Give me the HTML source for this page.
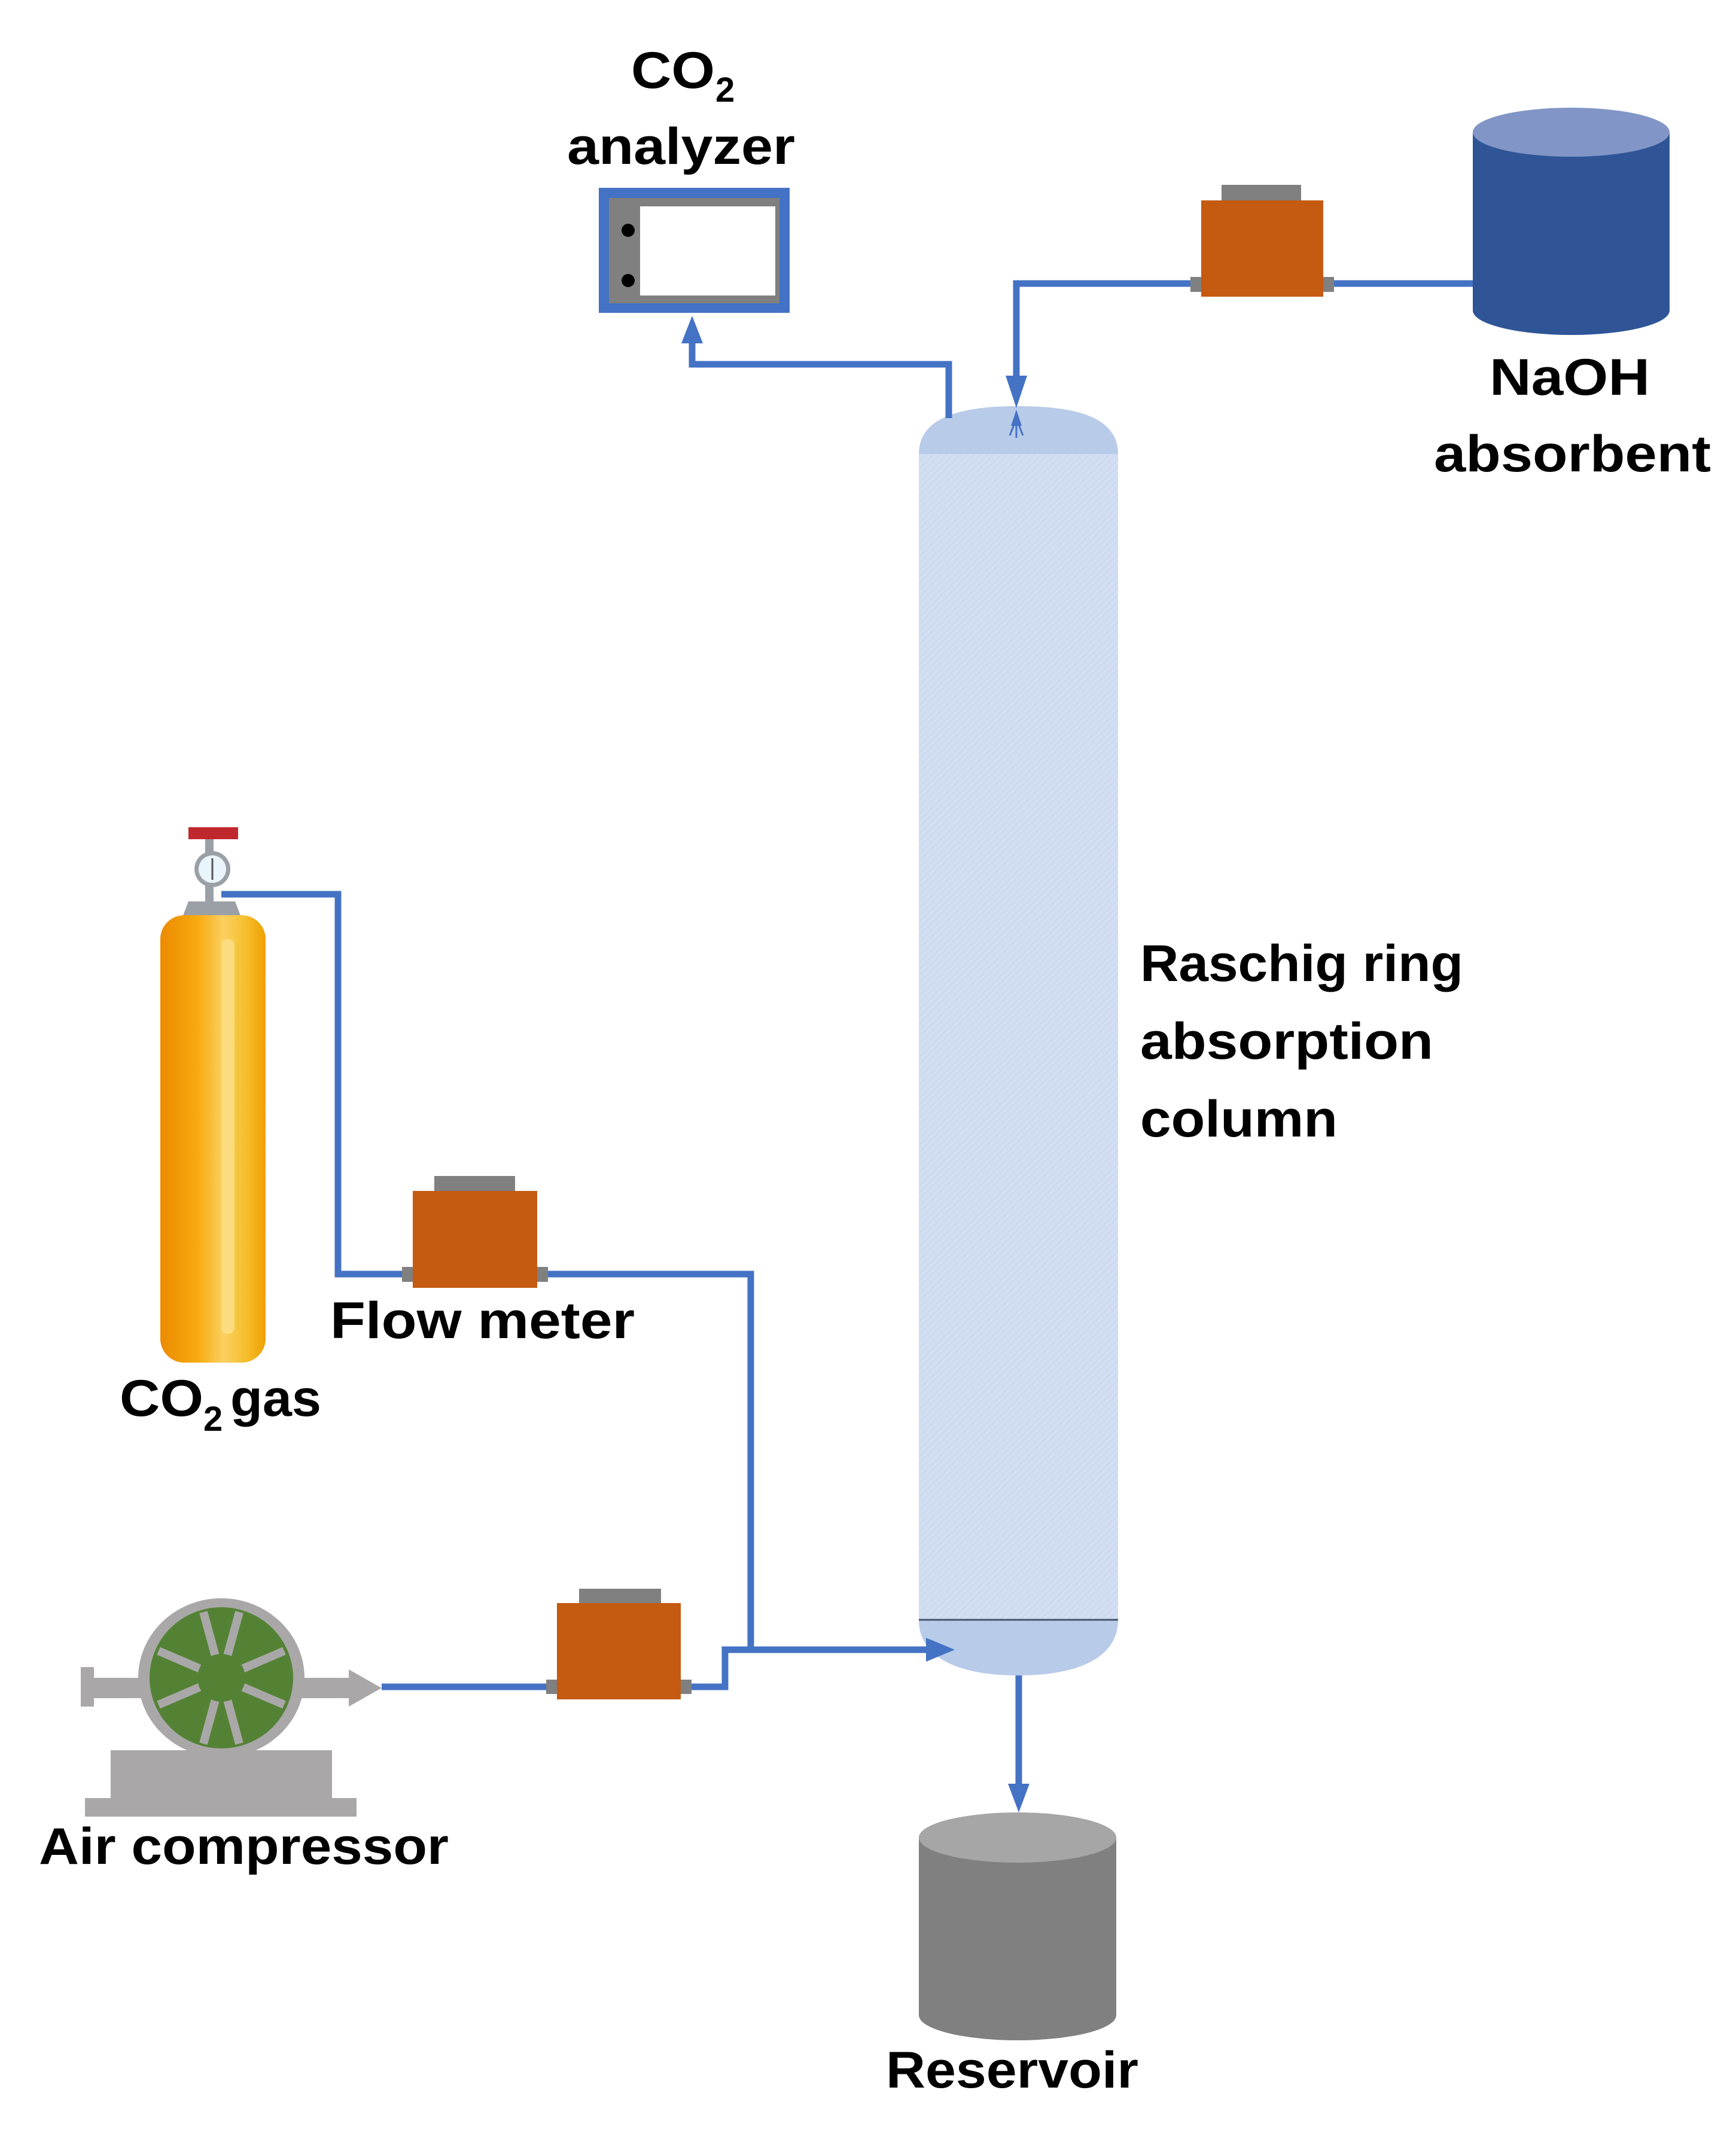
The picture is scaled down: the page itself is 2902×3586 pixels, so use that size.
<!DOCTYPE html>
<html><head><meta charset="utf-8"><style>html,body{margin:0;padding:0;background:#fff}svg{display:block}text{font-family:"Liberation Sans",sans-serif;font-weight:bold;fill:#000}</style></head>
<body>
<svg width="2902" height="3586" viewBox="0 0 2902 3586" xmlns="http://www.w3.org/2000/svg">
<defs>
<pattern id="h" width="8" height="8" patternUnits="userSpaceOnUse" patternTransform="rotate(45)"><rect width="8" height="8" fill="#d2def2"/><line x1="0" y1="0" x2="0" y2="8" stroke="#c4d3ec" stroke-width="2"/></pattern>
<linearGradient id="cyl" x1="0" x2="1"><stop offset="0" stop-color="#ec8a00"/><stop offset="0.35" stop-color="#f7aa10"/><stop offset="0.6" stop-color="#fbd060"/><stop offset="0.8" stop-color="#f5c030"/><stop offset="1" stop-color="#f0a000"/></linearGradient>
</defs>

<!-- Column -->
<path d="M1536,759 C1536,700 1600,679 1702,679 C1805,679 1869,700 1869,759 Z" fill="#b8cbe8"/>
<rect x="1536" y="759" width="333" height="1949" fill="url(#h)"/>
<path d="M1536,2708 L1869,2708 C1869,2770 1805,2801 1702,2801 C1600,2801 1536,2770 1536,2708 Z" fill="#b8cbe8"/>
<line x1="1536" y1="2708" x2="1869" y2="2708" stroke="#44546a" stroke-width="3"/>
<g stroke="#4472c4" stroke-width="3"><line x1="1699" y1="700" x2="1688" y2="728"/><line x1="1699" y1="700" x2="1699" y2="732"/><line x1="1699" y1="700" x2="1710" y2="728"/></g>

<!-- Analyzer -->
<rect x="1001" y="314" width="319" height="209" fill="#4472c4"/>
<rect x="1018" y="331" width="285" height="176" fill="#808080"/>
<rect x="1070" y="345" width="226" height="149" fill="#fff"/>
<circle cx="1050" cy="385" r="11" fill="#000"/><circle cx="1050" cy="469" r="11" fill="#000"/>
<text x="1055" y="147" font-size="86" textLength="140" lengthAdjust="spacingAndGlyphs">CO</text>
<text x="1196" y="170" font-size="58">2</text>
<text x="948" y="274" font-size="86" textLength="381" lengthAdjust="spacingAndGlyphs">analyzer</text>

<!-- Pipes -->
<g fill="none" stroke="#4472c4" stroke-width="11">
<polyline points="1586,699 1586,609 1157,609 1157,570"/>
<polyline points="2462,474 1699,474 1699,630"/>
<polyline points="370,1495 565,1495 565,2130 1255,2130 1255,2758"/>
<polyline points="638,2820 1212,2820 1212,2758 1550,2758"/>
<polyline points="1703,2801 1703,2990"/>
</g>
<g fill="#4472c4">
<polygon points="1157,528 1139,574 1175,574"/>
<polygon points="1699,682 1681,628 1717,628"/>
<polygon points="1596,2758 1548,2738 1548,2778"/>
<polygon points="1703,3030 1685,2982 1721,2982"/>
<polygon points="1699,685 1690,712 1708,712"/>
</g>

<!-- NaOH flow meter -->
<rect x="1990" y="463" width="240" height="25" fill="#808080"/>
<rect x="2042" y="309" width="133" height="28" fill="#808080"/>
<rect x="2008" y="335" width="204" height="161" fill="#c55a11"/>

<!-- NaOH tank -->
<path d="M2462,221 L2462,519 A164.5,41 0 0 0 2791,519 L2791,221 Z" fill="#2f5597"/>
<ellipse cx="2626.5" cy="221" rx="164.5" ry="41" fill="#8196c6"/>
<text x="2490" y="660" font-size="86" textLength="268" lengthAdjust="spacingAndGlyphs">NaOH</text>
<text x="2397" y="788" font-size="86" textLength="463" lengthAdjust="spacingAndGlyphs">absorbent</text>

<!-- CO2 cylinder -->
<rect x="343" y="1395" width="14" height="120" fill="#9aa0a6"/>
<rect x="315" y="1383" width="83" height="20" fill="#c0272d"/>
<circle cx="355" cy="1453" r="30" fill="#9aa0a6"/>
<circle cx="355" cy="1453" r="23" fill="#eaf4fb"/>
<line x1="355" y1="1435" x2="355" y2="1471" stroke="#555" stroke-width="3"/>
<path d="M305,1533 L315,1507 L393,1507 L403,1533 Z" fill="#9aa0a6"/>
<rect x="268" y="1530" width="176" height="748" rx="40" fill="url(#cyl)"/>
<rect x="370" y="1570" width="22" height="660" rx="10" fill="#fbe08a" opacity="0.8"/>
<text x="200" y="2367" font-size="86" textLength="140" lengthAdjust="spacingAndGlyphs">CO</text>
<text x="340" y="2392" font-size="58">2</text>
<text x="385" y="2367" font-size="86" textLength="152" lengthAdjust="spacingAndGlyphs">gas</text>

<!-- Flow meter 1 -->
<rect x="672" y="2118" width="244" height="25" fill="#808080"/>
<rect x="726" y="1966" width="135" height="27" fill="#808080"/>
<rect x="690" y="1991" width="208" height="162" fill="#c55a11"/>
<text x="552" y="2237" font-size="86" textLength="509" lengthAdjust="spacingAndGlyphs">Flow meter</text>

<!-- Raschig text -->
<text x="1906" y="1640" font-size="86" textLength="540" lengthAdjust="spacingAndGlyphs">Raschig ring</text>
<text x="1906" y="1770" font-size="86" textLength="490" lengthAdjust="spacingAndGlyphs">absorption</text>
<text x="1906" y="1900" font-size="86" textLength="330" lengthAdjust="spacingAndGlyphs">column</text>

<!-- Compressor -->
<rect x="142" y="3006" width="454" height="31" fill="#a9a7a7"/>
<rect x="185" y="2926" width="370" height="82" fill="#a9a7a7"/>
<rect x="135" y="2787" width="22" height="66" fill="#a9a7a7"/>
<rect x="150" y="2805" width="90" height="34" fill="#a9a7a7"/>
<rect x="500" y="2805" width="90" height="34" fill="#a9a7a7"/>
<polygon points="638,2822 583,2791 583,2853" fill="#a9a7a7"/>
<ellipse cx="370" cy="2805" rx="139" ry="133" fill="#a9a7a7"/>
<ellipse cx="370" cy="2805" rx="120" ry="118" fill="#548235"/>
<g stroke="#a9a7a7" stroke-width="14">
<line x1="370" y1="2805" x2="340" y2="2695"/><line x1="370" y1="2805" x2="400" y2="2695"/>
<line x1="370" y1="2805" x2="340" y2="2915"/><line x1="370" y1="2805" x2="400" y2="2915"/>
<line x1="370" y1="2805" x2="265" y2="2760"/><line x1="370" y1="2805" x2="475" y2="2760"/>
<line x1="370" y1="2805" x2="265" y2="2850"/><line x1="370" y1="2805" x2="475" y2="2850"/>
</g>
<ellipse cx="370" cy="2805" rx="40" ry="40" fill="#548235"/>
<text x="65" y="3116" font-size="86" textLength="685" lengthAdjust="spacingAndGlyphs">Air compressor</text>

<!-- Flow meter 2 -->
<rect x="913" y="2808" width="243" height="24" fill="#808080"/>
<rect x="968" y="2656" width="137" height="26" fill="#808080"/>
<rect x="931" y="2680" width="207" height="161" fill="#c55a11"/>

<!-- Reservoir -->
<path d="M1536,3072 L1536,3369 A165,42 0 0 0 1866,3369 L1866,3072 Z" fill="#808080"/>
<ellipse cx="1701" cy="3072" rx="165" ry="42" fill="#a6a6a6"/>
<text x="1481" y="3490" font-size="86" textLength="422" lengthAdjust="spacingAndGlyphs">Reservoir</text>
</svg>
</body></html>
